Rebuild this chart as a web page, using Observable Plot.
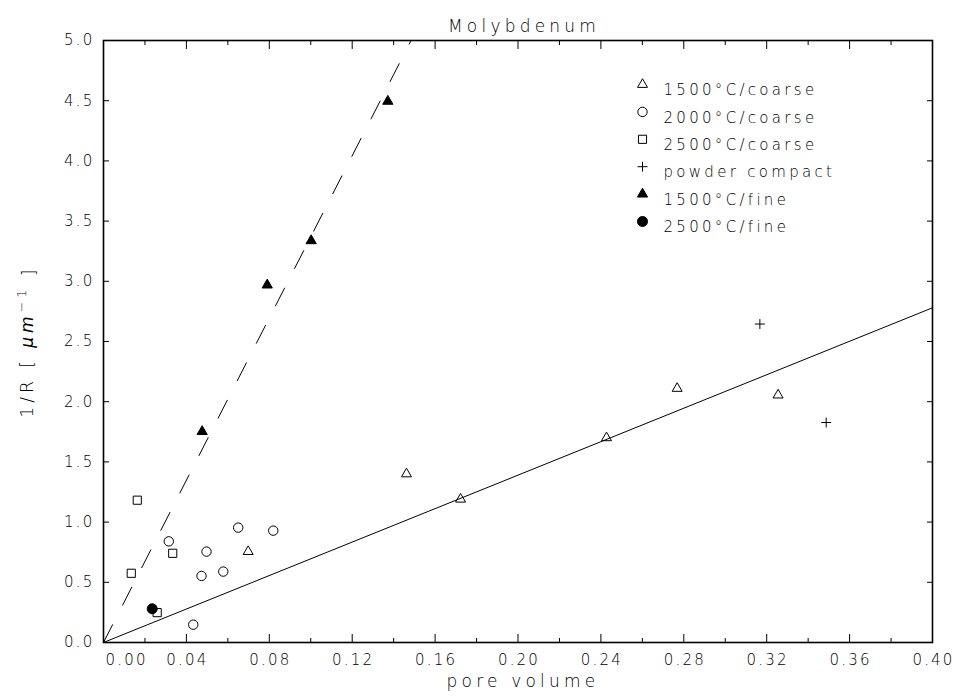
<!DOCTYPE html>
<html><head><meta charset="utf-8">
<script src="https://cdn.jsdelivr.net/npm/d3@7"></script>
<script src="https://cdn.jsdelivr.net/npm/@observablehq/plot@0.6"></script>
<style>body{margin:0;background:#fff}</style>
</head><body><div id="chart"></div>
<script>
// ---- text ----
const title = "Molybdenum";
const xLabel = "pore volume";
const yLabel = "1/R [ μm⁻¹ ]";

// ---- ticks ----
const xMinorTicks = [0.02, 0.06, 0.10, 0.14, 0.18, 0.22, 0.26, 0.30, 0.34, 0.38];
const xMajorTicks = [0.04, 0.08, 0.12, 0.16, 0.20, 0.24, 0.28, 0.32, 0.36];
const xLabelTicks = [0.04, 0.08, 0.12, 0.16, 0.20, 0.24, 0.28, 0.32, 0.36, 0.40];
const xZeroTick = [0];
const yTicks = [0.5, 1.0, 1.5, 2.0, 2.5, 3.0, 3.5, 4.0, 4.5];
const yLabelTicks = [0.0, 0.5, 1.0, 1.5, 2.0, 2.5, 3.0, 3.5, 4.0, 4.5, 5.0];

// ---- data: [pore volume, 1/R] ----
const coarse1500 = [[0.0698, 0.755], [0.1462, 1.40], [0.1723, 1.19], [0.2427, 1.70], [0.2768, 2.11], [0.3255, 2.055]];
const coarse2000 = [[0.0315, 0.84], [0.0497, 0.755], [0.0473, 0.553], [0.0578, 0.589], [0.0650, 0.954], [0.0819, 0.929], [0.0433, 0.148]];
const coarse2500 = [[0.0163, 1.182], [0.0134, 0.575], [0.0334, 0.741], [0.0259, 0.248]];
const powderCompact = [[0.3167, 2.645], [0.3487, 1.827]];
const fine1500 = [[0.0476, 1.752], [0.0790, 2.969], [0.1002, 3.337], [0.1372, 4.495]];
const fine2500 = [[0.0235, 0.28]];

// fitted lines (end points)
const solidFit = [[0, 0], [0.40, 2.78]];
const dashedFit = [[0, 0], [0.1484, 5.0]];

const series = [
  {label: "1500°C/coarse", data: coarse1500, symbol: "triangle", fill: "none", r: 3.7},
  {label: "2000°C/coarse", data: coarse2000, symbol: "circle", fill: "none", r: 4.7},
  {label: "2500°C/coarse", data: coarse2500, symbol: "square", fill: "none", r: 4.6},
  {label: "powder compact", data: powderCompact, symbol: "plus", fill: "none", r: 3.3},
  {label: "1500°C/fine", data: fine1500, symbol: "triangle", fill: "black", r: 3.8},
  {label: "2500°C/fine", data: fine2500, symbol: "circle", fill: "black", r: 5}
];

const font = "'DejaVu Sans', sans-serif";
const ink = "black";

const marks = [
  Plot.frame({stroke: "black", strokeWidth: 1.6}),
  // inward ticks
  Plot.axisX({anchor: "bottom", ticks: xMinorTicks, tickSize: -4, tickFormat: () => ""}),
  Plot.axisX({anchor: "bottom", ticks: xMajorTicks, tickSize: -8, tickFormat: () => ""}),
  Plot.axisX({anchor: "top", ticks: xMinorTicks, tickSize: -4, tickFormat: () => ""}),
  Plot.axisX({anchor: "top", ticks: xMajorTicks, tickSize: -8, tickFormat: () => ""}),
  Plot.axisY({anchor: "left", ticks: yTicks, tickSize: -6, tickFormat: () => ""}),
  Plot.axisY({anchor: "right", ticks: yTicks, tickSize: -6, tickFormat: () => ""}),
  // labels
  Plot.axisX({anchor: "bottom", ticks: xLabelTicks, tickSize: 0, tickPadding: 12, dx: 1, tickFormat: d3.format(".2f"), fill: ink}),
  Plot.text(xZeroTick, {x: d => d, frameAnchor: "bottom", text: d => d3.format(".2f")(d), textAnchor: "start", lineAnchor: "top", dx: 2, dy: 12, fill: ink}),
  Plot.axisY({anchor: "left", ticks: yLabelTicks, tickSize: 0, tickPadding: 9, tickFormat: d3.format(".1f"), fill: ink}),
  Plot.text([title], {frameAnchor: "top", dy: -21, dx: 6, fontSize: 17, fill: ink}),
  Plot.text([xLabel], {frameAnchor: "bottom", dy: 44, dx: 5, fontSize: 17, fill: ink}),
  Plot.text([yLabel], {frameAnchor: "left", dx: -76, rotate: -90, fontSize: 17, fill: ink}),
  // fit lines
  Plot.line(solidFit, {x: d => d[0], y: d => d[1], stroke: "black", strokeWidth: 1}),
  Plot.line(dashedFit, {x: d => d[0], y: d => d[1], stroke: "black", strokeWidth: 1, strokeDasharray: "20,22"})
];

series.forEach((s, i) => {
  marks.push(Plot.dot(s.data, {x: d => d[0], y: d => d[1], symbol: s.symbol, r: s.r, fill: s.fill, stroke: "black", strokeWidth: 1}));
  // legend
  marks.push(Plot.dot([s.label], {frameAnchor: "top-left", dx: 539, dy: 44 + 27.4 * i, symbol: s.symbol, r: s.r, fill: s.fill, stroke: "black", strokeWidth: 1}));
  marks.push(Plot.text([s.label], {frameAnchor: "top-left", dx: 560, dy: 44 + 27.4 * i, textAnchor: "start", fill: ink}));
});

const chart = Plot.plot({
  width: 956,
  height: 700,
  marginLeft: 103,
  marginRight: 24,
  marginTop: 40,
  marginBottom: 58,
  x: {domain: [0, 0.4]},
  y: {domain: [0, 5]},
  style: {fontFamily: font, fontSize: "15px", fontWeight: 300, letterSpacing: "2.2px", background: "white", color: ink, overflow: "visible"},
  marks
});
document.getElementById("chart").appendChild(chart);

const texts = d3.select(chart).selectAll("text");
const legendLabels = series.map(s => s.label);
texts.filter(function() { return legendLabels.includes(this.textContent); }).style("letter-spacing", "3.3px");
texts.filter(function() { return this.textContent === title || this.textContent === xLabel; }).style("letter-spacing", "4.2px");

// rich y label: italic μm and superscript −1, centred by measurement
texts.filter(function() { return this.textContent === yLabel; })
  .each(function() {
    const t = d3.select(this);
    t.text(null).style("letter-spacing", "4px");
    t.append("tspan").text("1/R [ ");
    t.append("tspan").attr("font-style", "italic").text("μm");
    t.append("tspan").attr("dy", "-0.55em").attr("font-size", "75%").text("−1");
    t.append("tspan").attr("dy", "0.55em").text(" ]");
    const len = this.getComputedTextLength();
    t.attr("text-anchor", "start").attr("x", -len / 2);
  });
</script>
</body></html>
